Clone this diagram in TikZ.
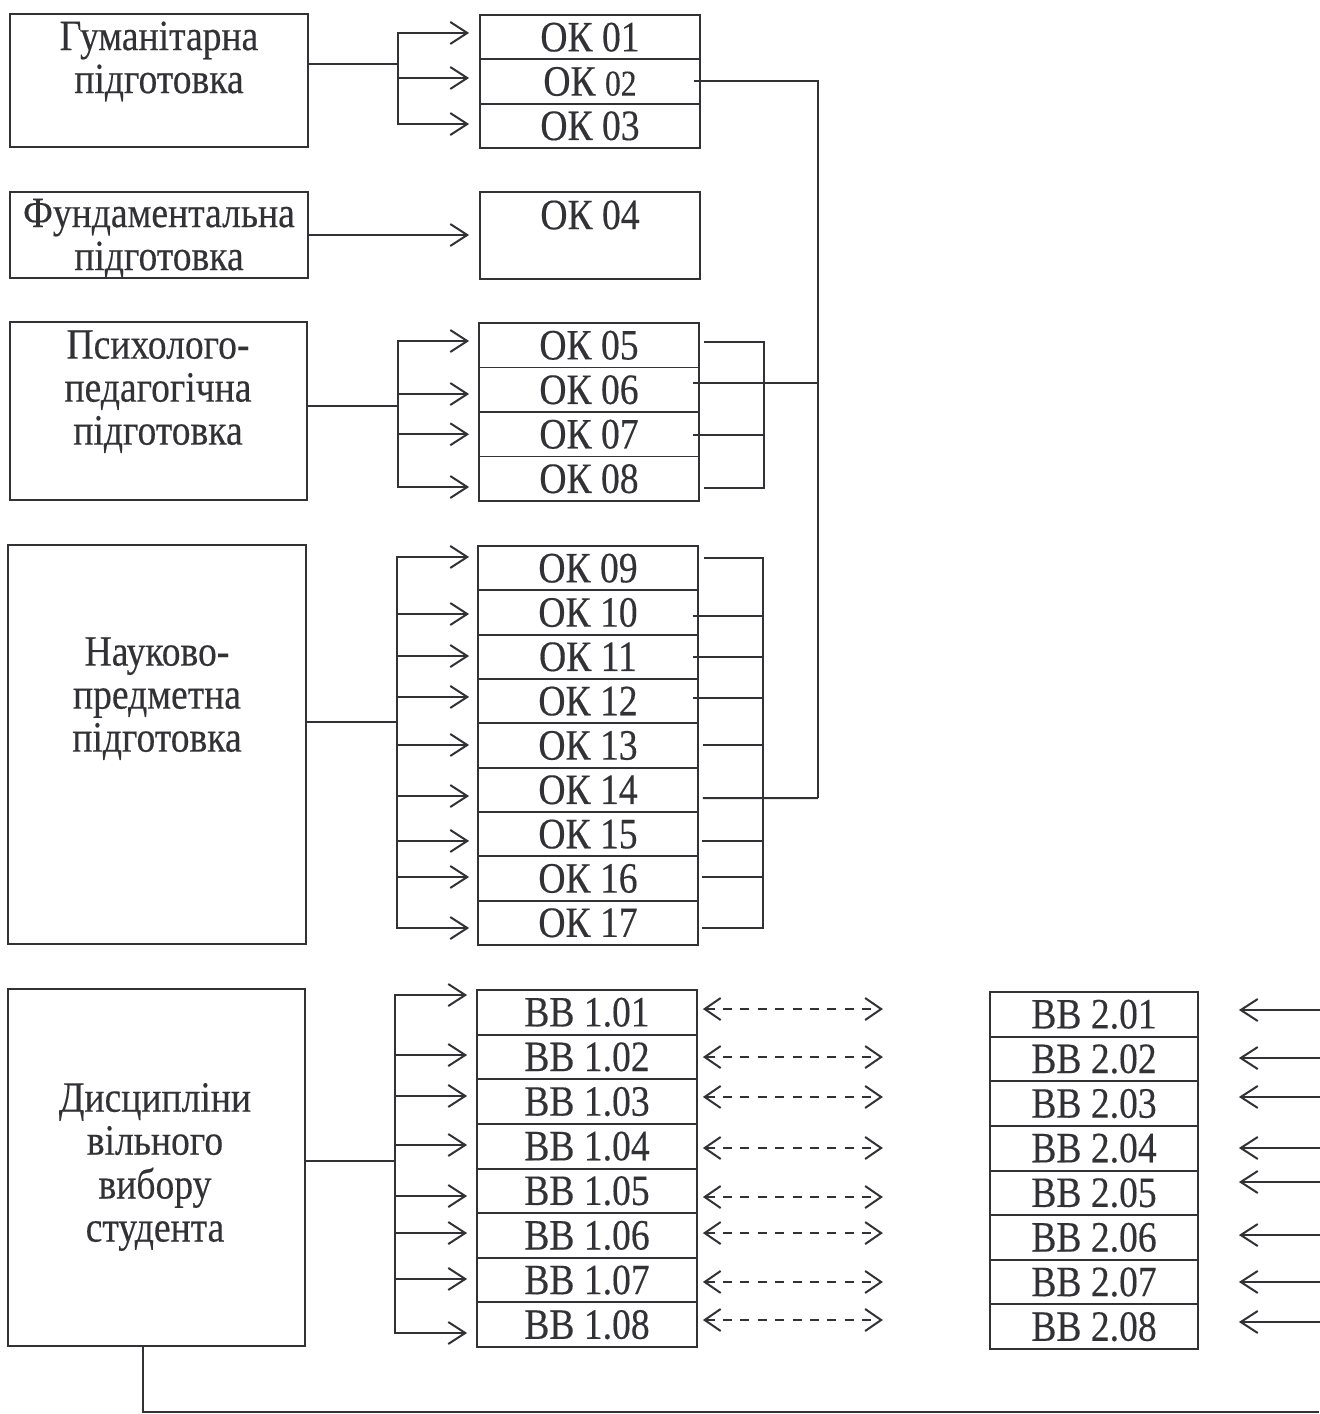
\documentclass[tikz,border=0pt]{standalone}
\usepackage{fontspec}
\usepackage{graphicx}
\setmainfont[FakeBold=0.35]{Liberation Serif}
\usetikzlibrary{arrows.meta,calc}
\definecolor{ink}{RGB}{50,50,54}
\newcommand{\fsz}{\fontsize{18.8}{18.7}\selectfont}
\newcommand{\vs}[1]{\scalebox{1}[1.15]{\begin{tabular}{@{}c@{}}#1\end{tabular}}}
\newcommand{\cs}[1]{\scalebox{1}[1.15]{#1}}
\begin{document}
\begin{tikzpicture}[x=0.5pt,y=-0.5pt,
  ln/.style={draw=ink,line width=1pt},
  arr/.style={ln,-{Straight Barb[length=8.5pt,width=11pt]}},
  darr/.style={draw=ink,line width=1pt,dash pattern=on 4.5pt off 4.2pt,{Straight Barb[length=8pt,width=11pt]}-{Straight Barb[length=8pt,width=11pt]}},
  lbox/.style={draw=ink,line width=0.9pt,inner sep=0pt},
  cell/.style={draw=ink,line width=0.9pt,inner sep=0pt,minimum width=110pt,minimum height=22.2pt,text=ink,font=\fsz},
  txt/.style={inner sep=0pt,text=ink,font=\fsz}]
\useasboundingbox (0,0) rectangle (1319,1414);

% left boxes
\node[lbox,minimum width=149pt,minimum height=66.5pt] (hum) at (159,80.5) {};
\node[txt] (humt) at (159,63) {\vs{Гуманітарна\\підготовка}};
\node[lbox,minimum width=149pt,minimum height=43pt] (fund) at (159,235) {};
\node[txt] (fundt) at (159,240) {\vs{Фундаментальна\\підготовка}};
\node[lbox,minimum width=148.5pt,minimum height=89pt] (psy) at (158.5,411) {};
\node[txt] (psyt) at (158,393) {\vs{Психолого-\\педагогічна\\підготовка}};
\node[lbox,minimum width=149pt,minimum height=199.5pt] (nauk) at (157,744.5) {};
\node[txt] (naukt) at (157,700) {\vs{Науково-\\предметна\\підготовка}};
\node[lbox,minimum width=148.5pt,minimum height=178.5pt] (disc) at (156.5,1167.5) {};
\node[txt] (disct) at (155,1168) {\vs{Дисципліни\\вільного\\вибору\\студента}};

% OK cells
\foreach \n/\t [count=\i] in {ok01/{ОК 01},ok02/{ОК {\fontsize{15.8}{15}\selectfont 02}},ok03/{ОК 03}}{
  \pgfmathsetmacro\yc{15+(\i-0.5)*44.33}
  \node[cell] (\n) at (590,\yc) {\cs{\t}};
}
\node[cell,minimum height=43.5pt] (ok04) at (590,235.5) {};
\node[txt] (ok04t) at (590,215) {\cs{ОК 04}};
\foreach \n/\t [count=\i] in {ok05/{ОК 05},ok06/{ОК 06},ok07/{ОК 07},ok08/{ОК 08}}{
  \pgfmathsetmacro\yc{323+(\i-0.5)*44.5}
  \node[cell] (\n) at (589,\yc) {\cs{\t}};
}
\foreach \n/\t [count=\i] in {ok09/{ОК 09},ok10/{ОК 10},ok11/{ОК 11},ok12/{ОК 12},ok13/{ОК 13},ok14/{ОК 14},ok15/{ОК 15},ok16/{ОК 16},ok17/{ОК 17}}{
  \pgfmathsetmacro\yc{546+(\i-0.5)*44.33}
  \node[cell] (\n) at (588,\yc) {\cs{\t}};
}
\foreach \i in {1,...,8}{
  \pgfmathsetmacro\yc{990+(\i-0.5)*44.625}
  \node[cell] (bb10\i) at (587,\yc) {\cs{ВВ 1.0\i}};
  \pgfmathsetmacro\yd{992+(\i-0.5)*44.625}
  \node[cell,minimum width=104pt] (bb20\i) at (1094,\yd) {\cs{ВВ 2.0\i}};
}

% left-side connectors
\coordinate (hb) at (398,64);
\draw[ln] (hb -| hum.east) -- (hb);
\foreach \c/\d in {ok01/-4.2,ok02/-3.5,ok03/-1.8}
  \draw[arr] (hb) |- ($(\c.west)+(-10,\d)$);
\draw[arr] (fund.east) -- ($(ok04.west)+(-10,-0.5)$);
\coordinate (pb) at (398,406);
\draw[ln] (pb -| psy.east) -- (pb);
\foreach \c/\d in {ok05/-4.25,ok06/4.25,ok07/0,ok08/8.25}
  \draw[arr] (pb) |- ($(\c.west)+(-9,\d)$);
\coordinate (nb) at (397,722);
\draw[ln] (nb -| nauk.east) -- (nb);
\foreach \c/\d in {ok09/-11.2,ok10/1.5,ok11/-0.8,ok12/-4.2,ok13/-0.5,ok14/6.2,ok15/6.8,ok16/-1.5,ok17/5.2}
  \draw[arr] (nb) |- ($(\c.west)+(-8,\d)$);
\coordinate (db) at (395,1161);
\draw[ln] (db -| disc.east) -- (db);
\foreach \c/\d in {bb101/-17.3,bb102/-1.9,bb103/-5.6,bb104/-1.2,bb105/5.2,bb106/-2.4,bb107/-1.1,bb108/8.3}
  \draw[arr] (db) |- ($(\c.west)+(-9,\d)$);

% right-side connectors
\coordinate (mvb) at (818,798);
\draw[ln] ($(ok02.east)+(-7,0)$) -| (mvb);
\draw[ln] ($(ok05.east)+(4,-3)$) -| ($(ok08.east)+(64,9)$) -- ($(ok08.east)+(4,9)$);
\draw[ln] ($(ok06.east)+(-7,-7)$) -- ($(ok06.east)+(119,-7)$);
\draw[ln] ($(ok07.east)+(-7,0.75)$) -- ($(ok07.east)+(64,0.75)$);
\draw[ln] ($(ok09.east)+(5,-10)$) -| ($(ok17.east)+(64,5)$) -- ($(ok17.east)+(3,5)$);
\foreach \c/\a/\d in {ok10/-6/3.5,ok11/-6/0,ok12/-6/-3,ok13/4/0,ok15/3/7,ok16/3/-1.5}
  \draw[ln] ($(\c.east)+(\a,\d)$) -- ($(\c.east)+(64,\d)$);
\draw[ln] ($(ok14.east)+(4,8.2)$) -- (mvb);

% dashed double arrows
\foreach \i/\d in {1/-3.3,2/0.1,3/-4.6,4/1.8,5/6.2,6/-2.4,7/1.9,8/-4.7}
  \draw[darr] ($(bb10\i.east)+(5,\d)$) -- ($(bb10\i.east)+(185,\d)$);
% incoming arrows on the right
\foreach \i/\d in {1/-4.3,2/-0.9,3/-6.6,4/-0.2,5/-10.8,6/-2.4,7/-0.1,8/-4.7}
  \draw[arr] ($(bb20\i.east)+(121,\d)$) -- ($(bb20\i.east)+(40,\d)$);

% bottom line
\coordinate (bx) at (143,0);
\coordinate (bend) at (1319,1412);
\draw[ln] (disc.south -| bx) |- (bend);
\end{tikzpicture}
\end{document}
